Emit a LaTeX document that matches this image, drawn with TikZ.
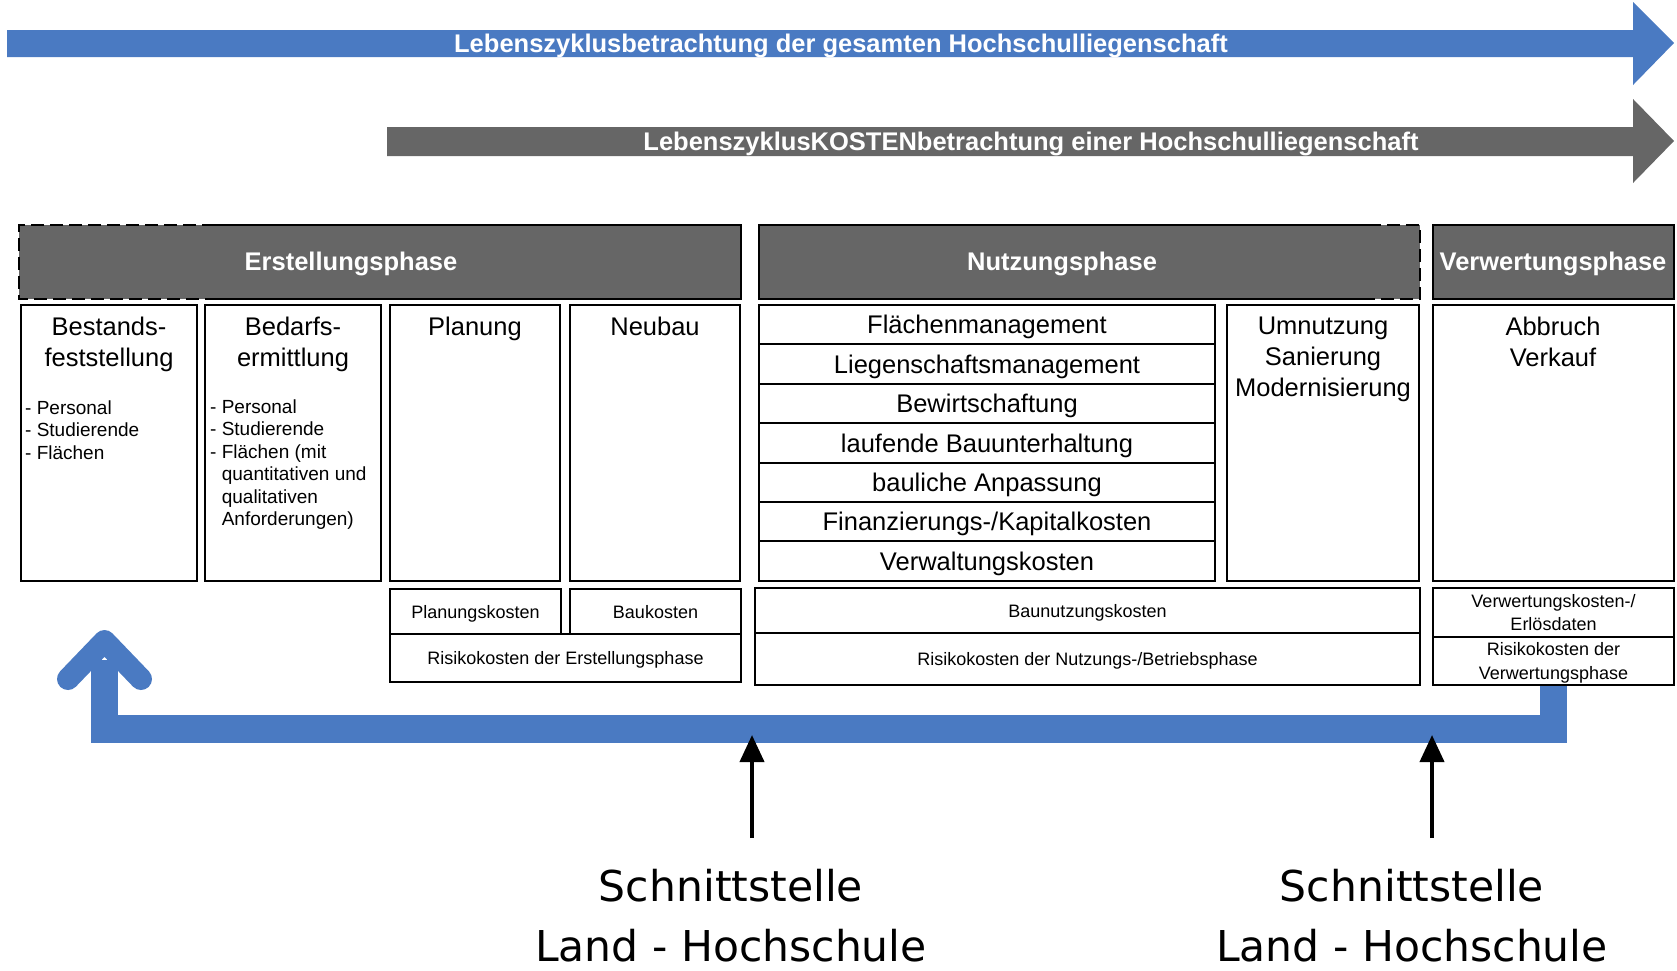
\documentclass[tikz,border=0pt]{standalone}
\usepackage{fontspec}
\setmainfont{Liberation Sans}
\newfontfamily\schnittfont{DejaVu Sans}
\usetikzlibrary{arrows.meta}
\definecolor{zyklusblau}{HTML}{4A7AC2}
\definecolor{phasengrau}{HTML}{666666}

\begin{document}
\begin{tikzpicture}[x=1pt,y=-1pt,
  rahmen/.style={draw,line width=2pt},
  kopf/.style={font=\bfseries\fontsize{25.5}{30}\selectfont,text=white,inner sep=0pt,text height=18.3pt,text depth=0pt},
  gross/.style={font=\fontsize{25.5}{31}\selectfont,align=center,inner sep=0pt},
  zeile/.style={rahmen,gross,text height=18.3pt,text depth=0pt,minimum width=456pt,minimum height=39.4pt},
  klein/.style={font=\fontsize{19}{22.5}\selectfont,align=left,inner sep=0pt,anchor=north west},
  kosten/.style={draw,line width=2pt,font=\fontsize{18}{23.5}\selectfont,align=center,inner sep=0pt},
  einzeilig/.style={text height=13pt,text depth=0pt},
  schnitt/.style={font=\schnittfont\fontsize{42.5}{59.5}\selectfont,align=center,inner sep=0pt,anchor=north},
  pfeil/.style={line width=4pt,-{Triangle[length=27pt,width=24pt]}}]

\useasboundingbox (0,0) rectangle (1677,970);

% Lebenszyklus-Pfeile oben
\fill[zyklusblau] (7,30) -- (1633,30) -- (1633,2) -- (1674,43) -- (1633,85) -- (1633,57) -- (7,57) -- cycle;
\fill[phasengrau] (387,127) -- (1633,127) -- (1633,99) -- (1674,141) -- (1633,183) -- (1633,156) -- (387,156) -- cycle;
\node[kopf] (lzb) at (841,43) {Lebenszyklusbetrachtung der gesamten Hochschulliegenschaft};
\node[kopf] (lzkb) at (1031,141) {LebenszyklusKOSTENbetrachtung einer Hochschulliegenschaft};

% Phasen
\fill[phasengrau] (19,225) rectangle (741,299);
\draw[line width=2.5pt,dash pattern=on 13pt off 6pt] (215,225) -- (19,225) -- (19,299) -- (215,299);
\draw[line width=2.5pt] (215,225) -- (741,225) -- (741,299) -- (215,299);
\fill[phasengrau] (759,225) rectangle (1420,299);
\draw[line width=2.5pt] (1368,225) -- (759,225) -- (759,299) -- (1368,299);
\draw[line width=2.5pt,dash pattern=on 13pt off 6pt] (1368,225) -- (1420,225) -- (1420,299) -- (1368,299);
\fill[phasengrau] (1433,225) rectangle (1674,299);
\draw[line width=2.5pt] (1433,225) rectangle (1674,299);

\node[kopf] (erst) at (351,261) {Erstellungsphase};
\node[kopf] (nutz) at (1062,261) {Nutzungsphase};
\node[kopf] (verw) at (1553,261) {Verwertungsphase};

% Inhalte
\draw[rahmen] (21,305) rectangle (197,581);
\draw[rahmen] (205,305) rectangle (381,581);
\draw[rahmen] (390,305) rectangle (560,581);
\draw[rahmen] (570,305) rectangle (740,581);
\draw[rahmen] (1227,305) rectangle (1419,581);
\draw[rahmen] (1433,305) rectangle (1674,581);

\node[gross,anchor=north] (bestand) at (109,316.5) {Bestands-\\feststellung};
\node[klein] (bestliste) at (25,400.5) {- Personal\\- Studierende\\- Flächen};
\node[gross,anchor=north] (bedarf) at (293,316.5) {Bedarfs-\\ermittlung};
\node[klein] (bedliste) at (210,399.5) {- Personal\\- Studierende\\- Flächen (mit\\\hphantom{-\ }quantitativen und\\\hphantom{-\ }qualitativen\\\hphantom{-\ }Anforderungen)};
\node[gross,anchor=north] (planung) at (475,316.5) {Planung};
\node[gross,anchor=north] (neubau) at (655,316.5) {Neubau};

\foreach \t [count=\i] in {Flächenmanagement,Liegenschaftsmanagement,Bewirtschaftung,laufende Bauunterhaltung,bauliche Anpassung,Finanzierungs-/Kapitalkosten,Verwaltungskosten}
  \node[zeile] (nutz\i) at (987,{305+39.4*\i-19.7}) {\t};

\node[gross,anchor=north] (umnutz) at (1323,316.5) {Umnutzung\\Sanierung\\Modernisierung};
\node[gross,anchor=north] (abbruch) at (1553,316.5) {Abbruch\\Verkauf};

% Kosten
\node[kosten,einzeilig,minimum width=171pt,minimum height=45pt] (plk) at (475.5,611.5) {Planungskosten};
\node[kosten,einzeilig,minimum width=171pt,minimum height=45pt] (bk) at (655.5,611.5) {Baukosten};
\node[kosten,einzeilig,minimum width=351pt,minimum height=48pt] (rke) at (565.5,658) {Risikokosten der Erstellungsphase};
\node[kosten,einzeilig,minimum width=665pt,minimum height=45pt] (bnk) at (1087.5,610.5) {Baunutzungskosten};
\node[kosten,einzeilig,minimum width=665pt,minimum height=52pt] (rkn) at (1087.5,659) {Risikokosten der Nutzungs-/Betriebsphase};

% Rueckkopplung
\coordinate (rueck) at (104.5,660);
\draw[zyklusblau,line width=27.5pt] (1553.5,685) -- ++(0,44) -| (rueck);
\draw[zyklusblau,line width=22pt,line cap=round,line join=round] (68,679) -- (104.5,641) -- (141,679);

\node[kosten,minimum width=241pt,minimum height=49pt] (vwk) at (1553.5,612.5) {Verwertungskosten-/\\Erlösdaten};
\node[kosten,minimum width=241pt,minimum height=48pt,text depth=0pt] (rkv) at (1553.5,661) {Risikokosten der\\Verwertungsphase};

% Schnittstellen
\node[schnitt] (schnitt1) at (731,869) {Schnittstelle\\Land - Hochschule};
\node[schnitt] (schnitt2) at (1412,869) {Schnittstelle\\Land - Hochschule};
\coordinate (s1spitze) at (752,735);
\coordinate (s2spitze) at (1432,735);
\draw[pfeil] ([yshift=31pt]schnitt1.north -| s1spitze) -- (s1spitze);
\draw[pfeil] ([yshift=31pt]schnitt2.north -| s2spitze) -- (s2spitze);

\end{tikzpicture}
\end{document}
